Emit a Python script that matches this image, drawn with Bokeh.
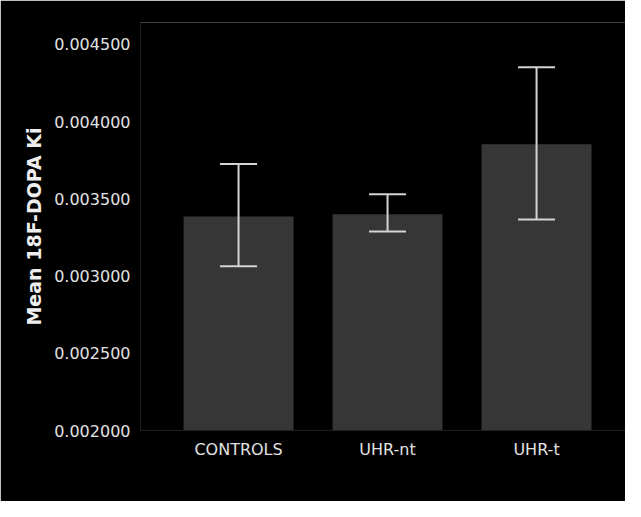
from bokeh.plotting import figure
from bokeh.models import ColumnDataSource, Whisker, TeeHead, Range1d, FixedTicker, NumeralTickFormatter
from bokeh.embed import file_html
from bokeh.resources import INLINE

categories = ["CONTROLS", "UHR-nt", "UHR-t"]
means = [0.003386, 0.003401, 0.003854]
err_lower = [0.003064, 0.003289, 0.003367]
err_upper = [0.003725, 0.003530, 0.004353]
y_ticks = [0.0020, 0.0025, 0.0030, 0.0035, 0.0040, 0.0045]

xs = list(range(len(categories)))
src = ColumnDataSource(dict(x=xs, top=means, lower=err_lower, upper=err_upper))

p = figure(width=625, height=501, output_backend="svg", toolbar_location=None,
           x_range=Range1d(-0.658, 2.597), y_range=Range1d(0.0020, 0.004642),
           background_fill_color="#000000", border_fill_color="#000000",
           min_border_left=140, min_border_right=0, min_border_top=22, min_border_bottom=71)
p.outline_line_color = None
p.grid.grid_line_color = None

p.vbar(x="x", top="top", bottom=0.0020, width=0.738, source=src,
       fill_color="#363636", line_color=None)

w = Whisker(base="x", lower="lower", upper="upper", source=src, level="overlay",
            line_color="#d4d4d4", line_width=2,
            upper_head=TeeHead(size=37, line_color="#d4d4d4", line_width=2),
            lower_head=TeeHead(size=37, line_color="#d4d4d4", line_width=2))
p.add_layout(w)

p.xaxis.ticker = FixedTicker(ticks=xs)
p.xaxis.major_label_overrides = {i: c for i, c in enumerate(categories)}
p.yaxis.ticker = FixedTicker(ticks=y_ticks)
p.yaxis.formatter = NumeralTickFormatter(format="0.000000")
p.yaxis.axis_label = "Mean 18F-DOPA Ki"

for ax in (p.xaxis[0], p.yaxis[0]):
    ax.axis_line_color = "#1e1e1e"
    ax.axis_line_width = 1
    ax.major_tick_line_color = None
    ax.minor_tick_line_color = None
    ax.major_tick_out = 0
    ax.major_tick_in = 0
    ax.minor_tick_out = 0
    ax.minor_tick_in = 0
    ax.major_label_text_color = "#e2e2e2"
    ax.major_label_text_font = "DejaVu Sans"
    ax.major_label_text_font_size = "16px"
p.xaxis.major_label_standoff = 9
p.yaxis.major_label_standoff = 10
p.yaxis.axis_label_text_color = "#eeeeee"
p.yaxis.axis_label_text_font = "DejaVu Sans"
p.yaxis.axis_label_text_font_style = "bold"
p.yaxis.axis_label_text_font_size = "19px"
p.yaxis.axis_label_standoff = 6

open("out.html", "w").write(file_html(p, INLINE))
